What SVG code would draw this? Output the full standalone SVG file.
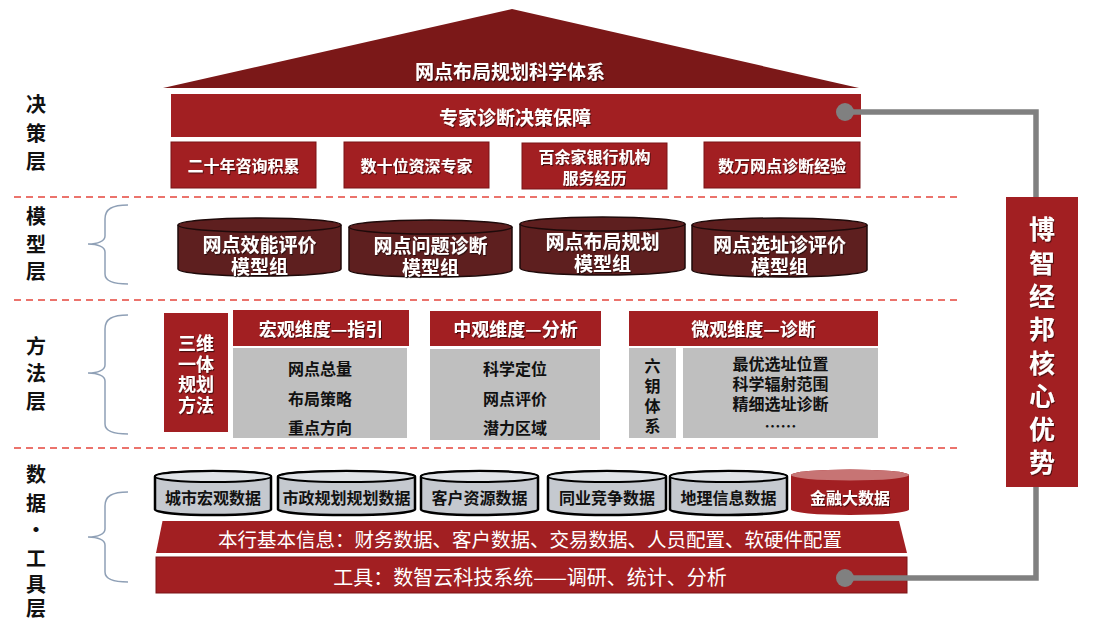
<svg xmlns="http://www.w3.org/2000/svg" width="1096" height="641" viewBox="0 0 1096 641">
<style>
text{font-family:"Noto Sans CJK SC","Noto Sans",sans-serif;dominant-baseline:central;text-anchor:middle}
.w{fill:#fff;font-weight:700}
.wr{fill:#fff;font-weight:400;font-size:20px}
.k{fill:#111;font-weight:700}
.lab{fill:#111;font-weight:700;font-size:20px}
.red{fill:#A21F22}
.redb{fill:#A21F22;stroke:#7A1416;stroke-width:1}
.gray{fill:#BFBFBF}
.dash{stroke:#E5463C;stroke-width:1.3;stroke-dasharray:7 5;fill:none}
.brace{fill:none;stroke:#8FA0B6;stroke-width:1.5}
.mcyl{fill:#5E1F1F;stroke:#1E0A0A;stroke-width:1.5}
.gcyl{fill:#C5C9CF;stroke:#000;stroke-width:2.5}
.gtop{fill:#E0E3E7;stroke:#000;stroke-width:2}
.conn{fill:none;stroke:#808080;stroke-width:5.5}
.dot{fill:#808080}
.m19{font-size:19px}
.s16{font-size:16px}
.s18{font-size:18px}
</style>
<defs>
<filter id="sh" x="-10%" y="-10%" width="130%" height="140%">
<feDropShadow dx="1" dy="1.2" stdDeviation="0.6" flood-color="#000" flood-opacity="0.55"/>
</filter>
</defs>

<!-- layer labels -->
<g id="labels">
<text class="lab" x="36" y="103">决<tspan x="36" dy="29">策</tspan><tspan x="36" dy="28">层</tspan></text>
<text class="lab" x="36" y="215">模<tspan x="36" dy="28">型</tspan><tspan x="36" dy="27">层</tspan></text>
<text class="lab" x="36" y="345">方<tspan x="36" dy="27">法</tspan><tspan x="36" dy="28">层</tspan></text>
<text class="lab" x="36" y="473">数<tspan x="36" dy="29">据</tspan><tspan x="36" dy="26">·</tspan><tspan x="36" dy="29">工</tspan><tspan x="36" dy="26">具</tspan><tspan x="36" dy="24">层</tspan></text>
</g>

<!-- separators and braces -->
<g id="separators">
<line class="dash" x1="14" y1="197" x2="958" y2="197"/>
<line class="dash" x1="14" y1="300" x2="958" y2="300"/>
<line class="dash" x1="14" y1="448" x2="958" y2="448"/>
<path class="brace" d="M128,205 C112,205 105,209 105,219 L105,236 C105,241 98,244 88,244 C98,244 105,247 105,252 L105,274 C105,280 112,284 128,284"/>
<path class="brace" d="M128,315 C112,315 105,319 105,329 L105,365 C105,370 98,373 88,373 C98,373 105,376 105,381 L105,424 C105,430 112,434 128,434"/>
<path class="brace" d="M128,492 C112,492 105,496 105,506 L105,529 C105,534 98,537 88,537 C98,537 105,540 105,545 L105,572 C105,578 112,582 128,582"/>
</g>

<!-- decision layer -->
<g id="roof">
<polygon points="163,88 512,9 859,88" fill="#7B1818"/>
<text class="w m19" x="510" y="70" filter="url(#sh)">网点布局规划科学体系</text>
</g>
<g id="expert">
<rect class="red" x="171" y="94" width="690" height="43"/>
<text class="w m19" x="515" y="116" filter="url(#sh)">专家诊断决策保障</text>
</g>
<g id="d1">
<rect class="redb" x="171" y="142" width="145" height="46"/>
<text class="w s16" x="243.5" y="165" filter="url(#sh)">二十年咨询积累</text>
</g>
<g id="d2">
<rect class="redb" x="344" y="142" width="145" height="46"/>
<text class="w s16" x="416.5" y="165" filter="url(#sh)">数十位资深专家</text>
</g>
<g id="d3">
<rect class="redb" x="522" y="143" width="145" height="46"/>
<text class="w s16" x="594.5" y="156" filter="url(#sh)">百余家银行机构<tspan x="594.5" dy="21">服务经历</tspan></text>
</g>
<g id="d4">
<rect class="redb" x="704" y="142" width="156" height="46"/>
<text class="w s16" x="782" y="165" filter="url(#sh)">数万网点诊断经验</text>
</g>

<!-- model layer -->
<g id="m1">
<path class="mcyl" d="M178,225 V269 A81.5,7 0 0 0 341,269 V225 A81.5,7 0 0 0 178,225 Z"/>
<path d="M178,225 A81.5,7 0 0 0 341,225" fill="none" stroke="#1E0A0A" stroke-width="1.5"/>
<text class="w m19" x="259.5" y="243" filter="url(#sh)">网点效能评价<tspan x="259.5" dy="22">模型组</tspan></text>
</g>
<g id="m2">
<path class="mcyl" d="M349,227 V270 A81.5,7 0 0 0 512,270 V227 A81.5,7 0 0 0 349,227 Z"/>
<path d="M349,227 A81.5,7 0 0 0 512,227" fill="none" stroke="#1E0A0A" stroke-width="1.5"/>
<text class="w m19" x="430.5" y="244" filter="url(#sh)">网点问题诊断<tspan x="430.5" dy="22">模型组</tspan></text>
</g>
<g id="m3">
<path class="mcyl" d="M520,224 V268 A82.5,7 0 0 0 685,268 V224 A82.5,7 0 0 0 520,224 Z"/>
<path d="M520,224 A82.5,7 0 0 0 685,224" fill="none" stroke="#1E0A0A" stroke-width="1.5"/>
<text class="w m19" x="602.5" y="240" filter="url(#sh)">网点布局规划<tspan x="602.5" dy="22">模型组</tspan></text>
</g>
<g id="m4">
<path class="mcyl" d="M692,225 V270 A87.5,7 0 0 0 867,270 V225 A87.5,7 0 0 0 692,225 Z"/>
<path d="M692,225 A87.5,7 0 0 0 867,225" fill="none" stroke="#1E0A0A" stroke-width="1.5"/>
<text class="w m19" x="779.5" y="243" filter="url(#sh)">网点选址诊评价<tspan x="779.5" dy="22">模型组</tspan></text>
</g>

<!-- method layer -->
<g id="method3d">
<rect class="red" x="164" y="313" width="64" height="119"/>
<text class="w s18" x="196" y="342" filter="url(#sh)">三维<tspan x="196" dy="20.5">一体</tspan><tspan x="196" dy="20.5">规划</tspan><tspan x="196" dy="20.5">方法</tspan></text>
</g>
<g id="macro">
<rect class="red" x="233" y="310" width="176" height="36"/>
<text class="w s18" x="321" y="328" filter="url(#sh)">宏观维度—指引</text>
<rect class="gray" x="233" y="348" width="174" height="90"/>
<text class="k s16" x="320" y="368">网点总量<tspan x="320" dy="30">布局策略</tspan><tspan x="320" dy="29">重点方向</tspan></text>
</g>
<g id="meso">
<rect class="red" x="430" y="311" width="171" height="35"/>
<text class="w s18" x="515.5" y="328" filter="url(#sh)">中观维度—分析</text>
<rect class="gray" x="430" y="349" width="170" height="91"/>
<text class="k s16" x="515" y="368">科学定位<tspan x="515" dy="30">网点评价</tspan><tspan x="515" dy="29">潜力区域</tspan></text>
</g>
<g id="micro">
<rect class="red" x="629" y="311" width="249" height="35"/>
<text class="w s18" x="753.5" y="328" filter="url(#sh)">微观维度—诊断</text>
<rect class="gray" x="629" y="348" width="47" height="90"/>
<text class="k s16" x="652.5" y="365">六<tspan x="652.5" dy="20">钥</tspan><tspan x="652.5" dy="20">体</tspan><tspan x="652.5" dy="20">系</tspan></text>
<rect class="gray" x="683" y="348" width="195" height="90"/>
<text class="k s16" x="780.5" y="363">最优选址位置<tspan x="780.5" dy="20">科学辐射范围</tspan><tspan x="780.5" dy="20">精细选址诊断</tspan><tspan x="780.5" dy="22">……</tspan></text>
</g>

<!-- data layer -->
<g id="c1">
<path class="gcyl" d="M155,476.5 V509.5 A58,5.5 0 0 0 271,509.5 V476.5 A58,5.5 0 0 0 155,476.5 Z"/>
<ellipse class="gtop" cx="213" cy="476.5" rx="58" ry="5.5"/>
<text class="k s16" x="213" y="497">城市宏观数据</text>
</g>
<g id="c2">
<path class="gcyl" d="M278,476.5 V509.5 A68.5,5.5 0 0 0 415,509.5 V476.5 A68.5,5.5 0 0 0 278,476.5 Z"/>
<ellipse class="gtop" cx="346.5" cy="476.5" rx="68.5" ry="5.5"/>
<text class="k s16" x="346.5" y="497">市政规划规划数据</text>
</g>
<g id="c3">
<path class="gcyl" d="M421,476.5 V509.5 A58.5,5.5 0 0 0 538,509.5 V476.5 A58.5,5.5 0 0 0 421,476.5 Z"/>
<ellipse class="gtop" cx="479.5" cy="476.5" rx="58.5" ry="5.5"/>
<text class="k s16" x="479.5" y="497">客户资源数据</text>
</g>
<g id="c4">
<path class="gcyl" d="M548,476.5 V509.5 A59,5.5 0 0 0 666,509.5 V476.5 A59,5.5 0 0 0 548,476.5 Z"/>
<ellipse class="gtop" cx="607" cy="476.5" rx="59" ry="5.5"/>
<text class="k s16" x="607" y="497">同业竞争数据</text>
</g>
<g id="c5">
<path class="gcyl" d="M670,476.5 V509.5 A58.5,5.5 0 0 0 787,509.5 V476.5 A58.5,5.5 0 0 0 670,476.5 Z"/>
<ellipse class="gtop" cx="728.5" cy="476.5" rx="58.5" ry="5.5"/>
<text class="k s16" x="728.5" y="497">地理信息数据</text>
</g>
<g id="c6">
<path d="M791,475 V509.5 A59,5.5 0 0 0 909,509.5 V475 A59,5.5 0 0 0 791,475 Z" fill="#A21F22"/>
<ellipse cx="850" cy="475" rx="59" ry="5.5" fill="#C77474"/>
<text class="w s16" x="850" y="497" filter="url(#sh)">金融大数据</text>
</g>
<g id="bankinfo">
<polygon points="162.5,521 899,521 907,553 156,553" fill="#A21F22"/>
<text class="wr" x="530" y="538" font-size="19.5" style="font-size:19.5px">本行基本信息：财务数据、客户数据、交易数据、人员配置、软硬件配置</text>
</g>
<g id="tools">
<rect x="156" y="557" width="751" height="36" fill="#A21F22" stroke="#7A1416" stroke-width="1"/>
<text class="wr" x="530" y="576">工具：数智云科技系统——调研、统计、分析</text>
</g>

<!-- core advantage -->
<g id="core">
<rect class="red" x="1006" y="197" width="72" height="290"/>
<text class="w" font-size="26" x="1042" y="227" filter="url(#sh)">博<tspan x="1042" dy="33.5">智</tspan><tspan x="1042" dy="33.5">经</tspan><tspan x="1042" dy="33">邦</tspan><tspan x="1042" dy="33.5">核</tspan><tspan x="1042" dy="33.5">心</tspan><tspan x="1042" dy="33">优</tspan><tspan x="1042" dy="33">势</tspan></text>
</g>

<!-- connectors -->
<g id="connectors">
<polyline class="conn" points="845,112 1036,112 1036,197"/>
<polyline class="conn" points="1036,487 1036,578 845,578"/>
<circle class="dot" cx="845" cy="112" r="9"/>
<circle class="dot" cx="845" cy="578" r="9"/>
</g>
</svg>
